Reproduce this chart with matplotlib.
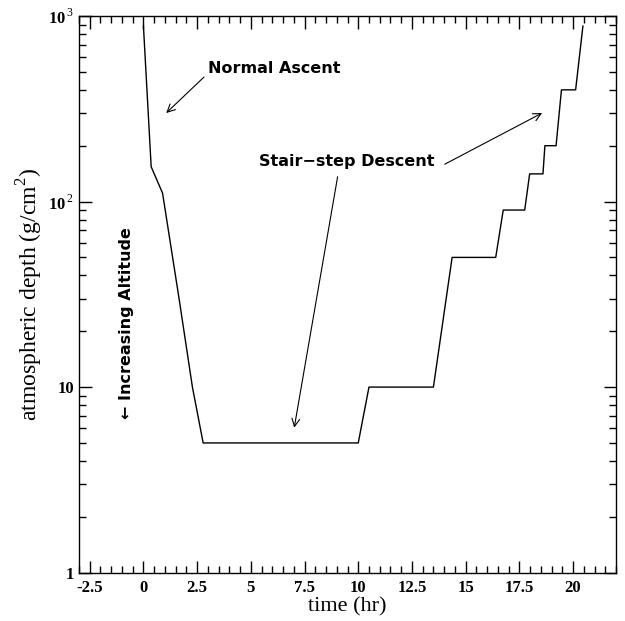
import numpy as np
import matplotlib.pyplot as plt
from matplotlib.ticker import MultipleLocator, FixedLocator, LogLocator, NullFormatter

# flight profile
time_hr = [0.0, 0.36, 0.89, 1.67, 2.28, 2.78, 10.0, 10.5, 13.5, 14.37, 16.4, 16.75,
           17.75, 17.98, 18.6, 18.69, 19.21, 19.46, 20.12, 20.46]
depth = [883, 154, 111, 29.4, 10, 5.0, 5.0, 10, 10, 50, 50, 90,
         90, 141, 141, 200, 200, 400, 400, 883]

ytick_vals = [1, 10, 100, 1000]
ytick_labels = ['1', '10', r'10$^{\,2}$', r'10$^{\,3}$']

plt.rcParams['mathtext.fontset'] = 'custom'
plt.rcParams['mathtext.rm'] = 'Liberation Serif:bold'
plt.rcParams['mathtext.bf'] = 'Liberation Serif:bold'

fig = plt.figure(figsize=(6.25, 6.21), dpi=100)
ax = fig.add_axes([0.1264, 0.0779, 0.8592, 0.8963])

ax.plot(time_hr, depth, color='k', lw=1.0)
ax.set_yscale('log')
ax.set_xlim(-3, 22)
ax.set_ylim(1, 1000)

ax.xaxis.set_major_locator(MultipleLocator(2.5))
ax.xaxis.set_minor_locator(MultipleLocator(0.5))
ax.yaxis.set_major_locator(FixedLocator(ytick_vals))
ax.yaxis.set_minor_locator(LogLocator(base=10, subs=np.arange(2, 10)))
ax.yaxis.set_minor_formatter(NullFormatter())
ax.set_yticklabels(ytick_labels)
xt = ax.get_xticks()
ax.set_xticklabels([('%g' % v) for v in xt])

ax.tick_params(which='both', direction='in', top=True, right=True, width=1.0)
ax.tick_params(which='major', length=9)
ax.tick_params(which='minor', length=5)
ax.tick_params(axis='x', which='major', pad=5)
for lab in ax.get_xticklabels() + ax.get_yticklabels():
    lab.set_fontfamily('Liberation Serif')
    lab.set_fontweight('bold')
    lab.set_fontsize(12)
for sp in ax.spines.values():
    sp.set_linewidth(1.0)

ax.set_xlabel('time (hr)', family='Liberation Serif', fontsize=16, labelpad=1)
ax.set_ylabel('atmospheric depth (g/cm$^{2}$)', family='Liberation Serif', fontsize=17, labelpad=2)
plt.rcParams['mathtext.rm'] = 'Liberation Serif'

arrow = dict(arrowstyle='->', color='k', lw=0.8, shrinkA=0, shrinkB=0, mutation_scale=14)
ax.annotate('', xy=(1.06, 300), xytext=(2.82, 469), arrowprops=arrow)
ax.text(3.0, 520, 'Normal Ascent', family='DejaVu Sans', weight='bold', fontsize=11.5,
        ha='left', va='center')

ax.text(13.56, 165, 'Stair\u2212step Descent', family='DejaVu Sans', weight='bold', fontsize=11.5,
        ha='right', va='center')
ax.annotate('', xy=(18.56, 300), xytext=(14.03, 159), arrowprops=arrow)
ax.annotate('', xy=(7.02, 6.04), xytext=(9.04, 136), arrowprops=arrow)

ax.text(-0.79, 22, '\u2190 Increasing Altitude', family='DejaVu Sans', weight='bold',
        fontsize=11.5, rotation=90, ha='center', va='center')

fig.savefig('out.png', dpi=100)
